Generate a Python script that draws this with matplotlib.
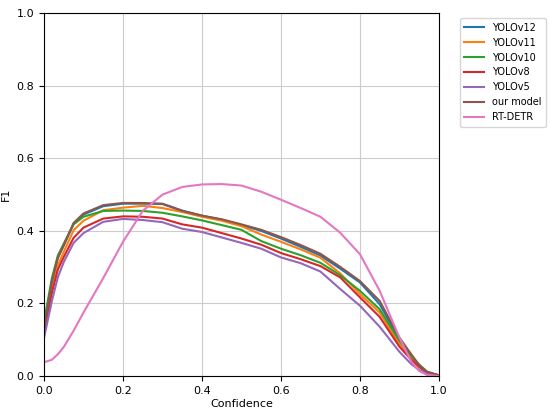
import matplotlib.pyplot as plt

# confidence thresholds
conf = [0.0, 0.02, 0.035, 0.05, 0.075, 0.1, 0.15, 0.2, 0.25, 0.3, 0.35, 0.4, 0.45, 0.5,
        0.55, 0.6, 0.65, 0.7, 0.75, 0.8, 0.85, 0.9, 0.93, 0.95, 0.97, 1.0]

yolov12 = [0.12, 0.26, 0.325, 0.36, 0.42, 0.445, 0.468, 0.475, 0.475, 0.475, 0.456, 0.442, 0.431, 0.416,
           0.400, 0.379, 0.356, 0.332, 0.296, 0.258, 0.198, 0.100, 0.055, 0.028, 0.010, 0.002]
yolov11 = [0.14, 0.24, 0.305, 0.342, 0.402, 0.428, 0.457, 0.464, 0.469, 0.463, 0.452, 0.439, 0.428, 0.413,
           0.390, 0.370, 0.349, 0.326, 0.283, 0.226, 0.175, 0.088, 0.050, 0.028, 0.010, 0.002]
yolov10 = [0.15, 0.27, 0.332, 0.365, 0.418, 0.439, 0.455, 0.456, 0.455, 0.450, 0.440, 0.429, 0.416, 0.403,
           0.372, 0.351, 0.333, 0.312, 0.278, 0.235, 0.184, 0.097, 0.056, 0.032, 0.012, 0.002]
yolov8 = [0.12, 0.23, 0.293, 0.328, 0.381, 0.409, 0.434, 0.440, 0.439, 0.434, 0.418, 0.409, 0.394, 0.379,
          0.362, 0.339, 0.322, 0.303, 0.272, 0.217, 0.163, 0.081, 0.045, 0.025, 0.010, 0.002]
yolov5 = [0.105, 0.207, 0.272, 0.314, 0.367, 0.394, 0.425, 0.433, 0.430, 0.424, 0.406, 0.397, 0.382, 0.367,
          0.351, 0.327, 0.311, 0.288, 0.240, 0.194, 0.136, 0.067, 0.033, 0.017, 0.006, 0.001]
ours = [0.13, 0.26, 0.326, 0.36, 0.422, 0.448, 0.471, 0.477, 0.477, 0.474, 0.455, 0.442, 0.432, 0.418,
        0.403, 0.383, 0.361, 0.337, 0.301, 0.262, 0.207, 0.106, 0.060, 0.030, 0.012, 0.002]
rtdetr = [0.038, 0.045, 0.060, 0.080, 0.125, 0.175, 0.270, 0.370, 0.455, 0.500, 0.521, 0.528, 0.529, 0.525,
          0.508, 0.486, 0.463, 0.439, 0.395, 0.336, 0.235, 0.106, 0.040, 0.014, 0.003, 0.0]

series = [("YOLOv12", yolov12, "#1f77b4"),
          ("YOLOv11", yolov11, "#ff7f0e"),
          ("YOLOv10", yolov10, "#2ca02c"),
          ("YOLOv8", yolov8, "#d62728"),
          ("YOLOv5", yolov5, "#9467bd"),
          ("our model", ours, "#8c564b"),
          ("RT-DETR", rtdetr, "#e377c2")]

fig = plt.figure(figsize=(5.5, 4.11), dpi=100)
ax = fig.add_axes([0.08, 0.085, 0.718, 0.883])

for name, vals, col in series:
    ax.plot(conf, vals, color=col, linewidth=1.5, label=name)

ax.set_xlim(0, 1)
ax.set_ylim(0, 1)
ax.grid(True, color="#cccccc", linewidth=0.8)
ax.tick_params(labelsize=8)
ax.set_xlabel("Confidence", fontsize=8, labelpad=2)
ax.set_ylabel("F1", fontsize=8)
ax.legend(loc="upper left", bbox_to_anchor=(1.04, 1.0), fontsize=7,
          handlelength=2.0, handletextpad=0.8, labelspacing=0.5, borderpad=0.5)

plt.savefig("out.png")
